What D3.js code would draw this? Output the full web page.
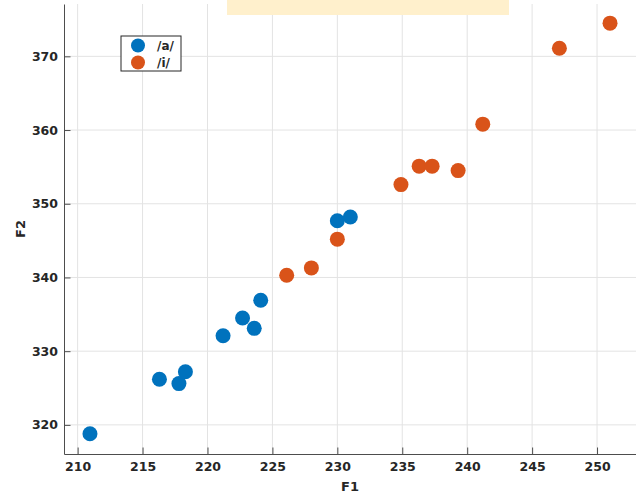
<!DOCTYPE html>
<html>
<head>
<meta charset="utf-8">
<script src="https://cdn.jsdelivr.net/npm/d3@7"></script>
<style>
  body { margin: 0; background: #fff; }
  .axis text { font-family: "DejaVu Sans", sans-serif; font-size: 12.5px; font-weight: bold; fill: #262626; }
  .axis path, .axis line { stroke: #4d4d4d; }
  .grid line { stroke: #e3e3e3; }
  .lbl { font-family: "DejaVu Sans", sans-serif; font-size: 13px; font-weight: bold; fill: #262626; }
</style>
</head>
<body>
<div id="chart"></div>
<script>
// vowel /a/ formants
var aF1 = [210.95, 216.3, 217.8, 218.3, 221.2, 222.7, 223.6, 224.1, 230.0, 231.0];
var aF2 = [318.8, 326.2, 325.6, 327.2, 332.1, 334.5, 333.1, 336.9, 347.7, 348.2];
// vowel /i/ formants
var iF1 = [226.1, 228.0, 230.0, 234.9, 236.3, 237.3, 239.3, 241.2, 247.1, 251.0];
var iF2 = [340.3, 341.3, 345.2, 352.6, 355.1, 355.1, 354.5, 360.8, 371.1, 374.5];

var xTicks = [210, 215, 220, 225, 230, 235, 240, 245, 250];
var yTicks = [320, 330, 340, 350, 360, 370];
var seriesNames = ["/a/", "/i/"];
var seriesColors = ["#0072BD", "#D95319"];

var width = 636, height = 495;
var margin = { top: 4, right: 0, bottom: 41, left: 64 };

var svg = d3.select("#chart").append("svg")
    .attr("width", width)
    .attr("height", height);

var x = d3.scaleLinear().domain([208.95, 253]).range([margin.left, width - margin.right]);
var y = d3.scaleLinear().domain([316.05, 377.1]).range([height - margin.bottom, margin.top]);

// grid
svg.append("g").attr("class", "grid")
    .selectAll("line").data(xTicks).enter().append("line")
    .attr("x1", function(d){ return x(d); }).attr("x2", function(d){ return x(d); })
    .attr("y1", y.range()[0]).attr("y2", y.range()[1]);
svg.append("g").attr("class", "grid")
    .selectAll("line").data(yTicks).enter().append("line")
    .attr("x1", x.range()[0]).attr("x2", x.range()[1])
    .attr("y1", function(d){ return y(d); }).attr("y2", function(d){ return y(d); });

// highlight band at top
svg.append("rect")
    .attr("x", 227).attr("y", 0)
    .attr("width", 282).attr("height", 15)
    .attr("fill", "#fff0cc");

// axes (ticks pointing inward)
svg.append("g").attr("class", "axis")
    .attr("transform", "translate(0," + (height - margin.bottom) + ")")
    .call(d3.axisBottom(x).tickValues(xTicks).tickSizeInner(-6.5).tickSizeOuter(0).tickPadding(8));
svg.append("g").attr("class", "axis")
    .attr("transform", "translate(" + margin.left + ",0)")
    .call(d3.axisLeft(y).tickValues(yTicks).tickSizeInner(-6.5).tickSizeOuter(0).tickPadding(6));

// points
var groups = [
    { xs: aF1, ys: aF2, color: seriesColors[0] },
    { xs: iF1, ys: iF2, color: seriesColors[1] }
];
groups.forEach(function(g){
    svg.append("g").selectAll("circle")
        .data(g.xs).enter().append("circle")
        .attr("cx", function(d){ return x(d); })
        .attr("cy", function(d, i){ return y(g.ys[i]); })
        .attr("r", 7.5)
        .attr("fill", g.color);
});

// axis labels
svg.append("text").attr("class", "lbl")
    .attr("x", (x.range()[0] + x.range()[1]) / 2).attr("y", 491)
    .attr("text-anchor", "middle")
    .text("F1");
svg.append("text").attr("class", "lbl")
    .attr("transform", "translate(25," + ((y.range()[0] + y.range()[1]) / 2) + ") rotate(-90)")
    .attr("text-anchor", "middle")
    .text("F2");

// legend
var legend = svg.append("g").attr("transform", "translate(121,36)");
legend.append("rect")
    .attr("width", 60).attr("height", 35)
    .attr("fill", "#fff").attr("stroke", "#262626");
seriesNames.forEach(function(name, i){
    legend.append("circle")
        .attr("cx", 17).attr("cy", 9.5 + i * 17)
        .attr("r", 7).attr("fill", seriesColors[i]);
    legend.append("text")
        .attr("x", 36).attr("y", 14 + i * 17)
        .style("font-family", "DejaVu Sans, sans-serif")
        .style("font-size", "12px")
        .style("font-weight", "bold")
        .style("fill", "#262626")
        .text(name);
});
</script>
</body>
</html>
